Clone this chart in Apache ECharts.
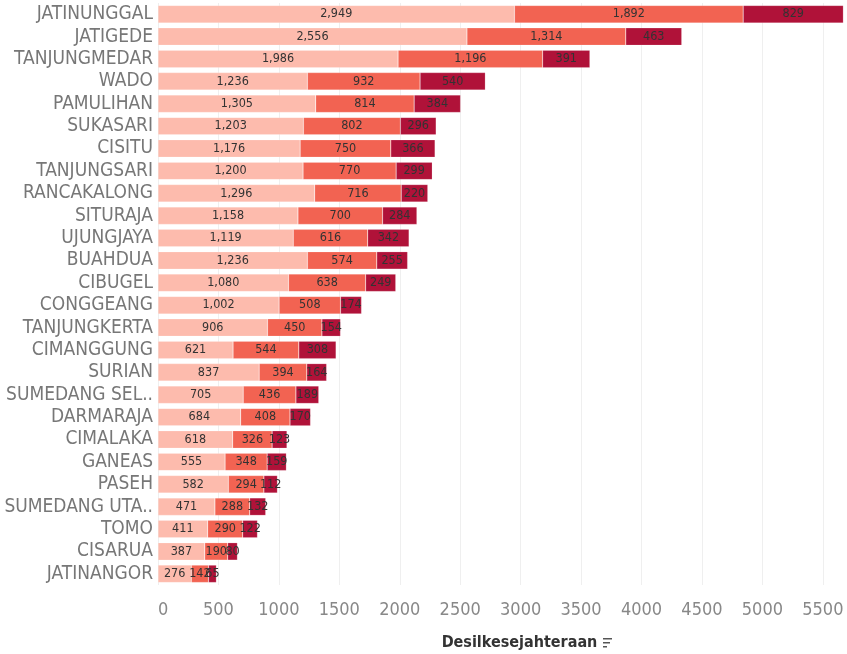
<!DOCTYPE html>
<html>
<head>
<meta charset="utf-8">
<script src="https://cdn.jsdelivr.net/npm/echarts@6/dist/echarts.min.js"></script>
<style>
html,body{margin:0;padding:0;background:#fff;}
#chart{width:847px;height:654px;}
</style>
</head>
<body>
<div id="chart"></div>
<script>
const categories = ["JATINUNGGAL","JATIGEDE","TANJUNGMEDAR","WADO","PAMULIHAN","SUKASARI","CISITU","TANJUNGSARI","RANCAKALONG","SITURAJA","UJUNGJAYA","BUAHDUA","CIBUGEL","CONGGEANG","TANJUNGKERTA","CIMANGGUNG","SURIAN","SUMEDANG SEL..","DARMARAJA","CIMALAKA","GANEAS","PASEH","SUMEDANG UTA..","TOMO","CISARUA","JATINANGOR"];
const desil1 = [2949,2556,1986,1236,1305,1203,1176,1200,1296,1158,1119,1236,1080,1002,906,621,837,705,684,618,555,582,471,411,387,276];
const desil2 = [1892,1314,1196,932,814,802,750,770,716,700,616,574,638,508,450,544,394,436,408,326,348,294,288,290,190,142];
const desil3 = [829,463,391,540,384,296,366,299,220,284,342,255,249,174,154,308,164,189,170,123,159,112,132,122,80,65];
const xTicks = [0,500,1000,1500,2000,2500,3000,3500,4000,4500,5000,5500];

const colors = ['#FDBBAD','#F26352','#B01239'];
const fnt = '"Liberation Sans Narrow","DejaVu Sans Condensed","Roboto",sans-serif';

function mk(name, data, color){
  return {
    name: name, type:'bar', stack:'total', data: data,
    barCategoryGap:'22%',
    itemStyle:{color: color, borderColor: 'rgba(255,255,255,0.35)', borderWidth: 0.5},
    label:{show:true, position:'inside', color:'#333', fontSize:12.5, fontFamily:fnt,
      formatter: p => p.value.toLocaleString('en-US')},
    emphasis:{disabled:true}
  };
}

const chart = echarts.init(document.getElementById('chart'));
chart.setOption({
  animation:false,
  grid:{left:158, right:0, top:3, bottom:69, containLabel:false, outerBoundsMode:'none'},
  xAxis:{
    type:'value', min:0, max:5700, interval:500,
    axisLine:{show:false}, axisTick:{show:false},
    splitLine:{show:true, lineStyle:{color:'#EFEFEF', width:1}},
    axisLabel:{color:'#888', fontSize:18, fontFamily:fnt, margin:16, showMaxLabel:false, alignMinLabel:'left',
      formatter: v => xTicks.indexOf(v) >= 0 ? String(v) : ''},
    name:'Desilkesejahteraan', nameLocation:'middle', nameGap:46,
    nameTextStyle:{color:'#333', fontSize:16, fontFamily:fnt, fontWeight:'bold', padding:[4,0,0,34]}
  },
  yAxis:{
    type:'category', data:categories, inverse:true,
    axisLine:{show:false}, axisTick:{show:false},
    axisLabel:{color:'#777', fontSize:19, fontFamily:fnt, margin:5, interval:0}
  },
  series:[mk('1',desil1,colors[0]), mk('2',desil2,colors[1]), mk('3',desil3,colors[2])],
  graphic:[
    {type:'rect', left:603, top:638, shape:{width:9,height:1.5}, style:{fill:'#555'}},
    {type:'rect', left:603, top:642, shape:{width:7,height:1.5}, style:{fill:'#555'}},
    {type:'rect', left:603, top:646, shape:{width:4,height:1.5}, style:{fill:'#555'}}
  ]
});
</script>
</body>
</html>
